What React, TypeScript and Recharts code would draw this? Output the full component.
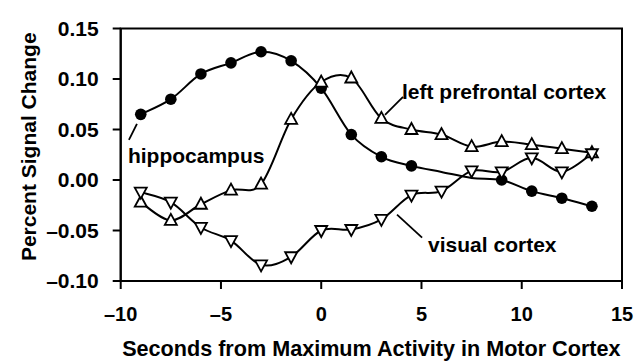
import React from 'react';
import {
  LineChart,
  Line,
  XAxis,
  YAxis,
  ReferenceArea,
  ReferenceLine,
  ReferenceDot,
  Label,
} from 'recharts';

// Seconds from maximum activity in motor cortex
const seconds = [-9, -7.5, -6, -4.5, -3, -1.5, 0, 1.5, 3, 4.5, 6, 7.5, 9, 10.5, 12, 13.5];
// Percent signal change
const hippocampus = [0.065, 0.08, 0.105, 0.116, 0.127, 0.118, 0.091, 0.045, 0.023, 0.014, 0.008, 0.002, 0.0, -0.011, -0.018, -0.026];
const leftPrefrontal = [-0.022, -0.04, -0.024, -0.01, -0.004, 0.06, 0.097, 0.101, 0.061, 0.05, 0.045, 0.033, 0.038, 0.035, 0.031, 0.027];
const visualCortex = [-0.012, -0.022, -0.047, -0.06, -0.084, -0.076, -0.05, -0.049, -0.039, -0.015, -0.011, 0.009, 0.008, 0.022, 0.008, 0.026];

const xTicks = [-10, -5, 0, 5, 10, 15];
const yTicks = [-0.1, -0.05, 0, 0.05, 0.1, 0.15];

const seriesNames = ['hippocampus', 'left prefrontal cortex', 'visual cortex'];
const xTitle = 'Seconds from Maximum Activity in Motor Cortex';
const yTitle = 'Percent Signal Change';

const data = seconds.map((x, i) => ({
  x,
  hippocampus: hippocampus[i],
  prefrontal: leftPrefrontal[i],
  visual: visualCortex[i],
}));

const FONT = '"Liberation Sans", Arial, Helvetica, sans-serif';

// Excel-like smoothed line (Catmull-Rom as cubic Bezier)
const excelCurve = (context: any) => {
  let pts: number[][] = [];
  return {
    areaStart() {},
    areaEnd() {},
    lineStart() {
      pts = [];
    },
    point(x: number, y: number) {
      pts.push([+x, +y]);
    },
    lineEnd() {
      const n = pts.length;
      if (!n) return;
      context.moveTo(pts[0][0], pts[0][1]);
      for (let i = 0; i < n - 1; i++) {
        const p0 = pts[Math.max(i - 1, 0)];
        const p1 = pts[i];
        const p2 = pts[i + 1];
        const p3 = pts[Math.min(i + 2, n - 1)];
        context.bezierCurveTo(
          p1[0] + (p2[0] - p0[0]) / 6,
          p1[1] + (p2[1] - p0[1]) / 6,
          p2[0] - (p3[0] - p1[0]) / 6,
          p2[1] - (p3[1] - p1[1]) / 6,
          p2[0],
          p2[1]
        );
      }
    },
  };
};

const hiddenHippoMarkers = [10, 11];

const renderCircle = (p: any) => {
  if (hiddenHippoMarkers.includes(p.index) || p.cx == null) return <g key={`c-${p.index}`} />;
  return <circle key={`c-${p.index}`} cx={p.cx} cy={p.cy} r={5.8} fill="#000" />;
};

const renderTriUp = (p: any) => {
  if (p.cx == null) return <g key={`u-${p.index}`} />;
  const { cx, cy } = p;
  return (
    <polygon
      key={`u-${p.index}`}
      points={`${cx},${cy - 6.5} ${cx - 6},${cy + 4.5} ${cx + 6},${cy + 4.5}`}
      fill="#fff"
      stroke="#000"
      strokeWidth={1.8}
    />
  );
};

const renderTriDown = (p: any) => {
  if (p.cx == null) return <g key={`d-${p.index}`} />;
  const { cx, cy } = p;
  return (
    <polygon
      key={`d-${p.index}`}
      points={`${cx},${cy + 6.5} ${cx - 6},${cy - 4.5} ${cx + 6},${cy - 4.5}`}
      fill="#fff"
      stroke="#000"
      strokeWidth={1.8}
    />
  );
};

const fmtX = (v: number) => (v < 0 ? '\u2013' + Math.abs(v) : String(v));
const fmtY = (v: number) => (v < 0 ? '\u2013' + Math.abs(v).toFixed(2) : v.toFixed(2));

const annotationText = (text: string) => (props: any) => {
  const vb = props.viewBox || {};
  return (
    <text
      x={vb.x}
      y={vb.y}
      fontFamily={FONT}
      fontWeight="bold"
      fontSize={21}
      fill="#000"
    >
      {text}
    </text>
  );
};

const Y_AXIS_W = 60;
const X_AXIS_H = 40;

export default function App() {
  return (
    <div style={{ position: 'absolute', left: 0, top: 0, background: '#fff' }}>
      <LineChart
        width={635}
        height={362}
        data={data}
        margin={{ top: 28.5, right: 13, bottom: 81 - X_AXIS_H, left: 120.7 - Y_AXIS_W }}
      >
        <XAxis
          dataKey="x"
          type="number"
          domain={[-10, 15]}
          ticks={xTicks}
          tickFormatter={fmtX}
          height={X_AXIS_H}
          stroke="#000"
          strokeWidth={2}
          tickSize={8}
          tickMargin={18}
          tick={{ fill: '#000', fontSize: 20, fontWeight: 'bold', fontFamily: FONT }}
          tickLine={{ stroke: '#000', strokeWidth: 2 }}
        >
          <Label
            content={(props: any) => {
              const vb = props.viewBox || {};
              return (
                <text
                  x={vb.x + vb.width / 2}
                  y={vb.y + 75}
                  textAnchor="middle"
                  fontFamily={FONT}
                  fontWeight="bold"
                  fontSize={21.6}
                  fill="#000"
                >
                  {xTitle}
                </text>
              );
            }}
          />
        </XAxis>
        <YAxis
          type="number"
          domain={[-0.1, 0.15]}
          ticks={yTicks}
          tickFormatter={fmtY}
          width={Y_AXIS_W}
          stroke="#000"
          strokeWidth={2}
          tickSize={8}
          tickMargin={14}
          tick={{ fill: '#000', fontSize: 21, fontWeight: 'bold', fontFamily: FONT }}
          tickLine={{ stroke: '#000', strokeWidth: 2 }}
        >
          <Label
            content={(props: any) => {
              const vb = props.viewBox || {};
              const x = vb.x + vb.width - 85;
              const y = vb.y + vb.height / 2 - 8;
              return (
                <text
                  x={x}
                  y={y}
                  transform={`rotate(-90, ${x}, ${y})`}
                  textAnchor="middle"
                  fontFamily={FONT}
                  fontWeight="bold"
                  fontSize={21}
                  fill="#000"
                >
                  {yTitle}
                </text>
              );
            }}
          />
        </YAxis>
        <ReferenceArea
          x1={-10}
          x2={15}
          y1={-0.1}
          y2={0.15}
          fill="none"
          stroke="#000"
          strokeWidth={2}
        />
        <Line
          dataKey="hippocampus"
          type={excelCurve as any}
          stroke="#000"
          strokeWidth={2}
          dot={renderCircle}
          activeDot={false}
          isAnimationActive={false}
        />
        <Line
          dataKey="prefrontal"
          type={excelCurve as any}
          stroke="#000"
          strokeWidth={2}
          dot={renderTriUp}
          activeDot={false}
          isAnimationActive={false}
        />
        <Line
          dataKey="visual"
          type={excelCurve as any}
          stroke="#000"
          strokeWidth={2}
          dot={renderTriDown}
          activeDot={false}
          isAnimationActive={false}
        />
        <ReferenceLine
          segment={[{ x: -9.19, y: 0.0556 }, { x: -9.59, y: 0.0398 }]}
          stroke="#000"
          strokeWidth={1.8}
        />
        <ReferenceLine
          segment={[{ x: 3.18, y: 0.0645 }, { x: 4.08, y: 0.0823 }]}
          stroke="#000"
          strokeWidth={1.8}
        />
        <ReferenceLine
          segment={[{ x: 3.78, y: -0.0343 }, { x: 5.03, y: -0.057 }]}
          stroke="#000"
          strokeWidth={1.8}
        />
        <ReferenceDot x={-9.64} y={0.0171} r={0} fill="none" stroke="none" label={annotationText(seriesNames[0])} />
        <ReferenceDot x={4.03} y={0.0802} r={0} fill="none" stroke="none" label={annotationText(seriesNames[1])} />
        <ReferenceDot x={5.33} y={-0.0709} r={0} fill="none" stroke="none" label={annotationText(seriesNames[2])} />
      </LineChart>
    </div>
  );
}
